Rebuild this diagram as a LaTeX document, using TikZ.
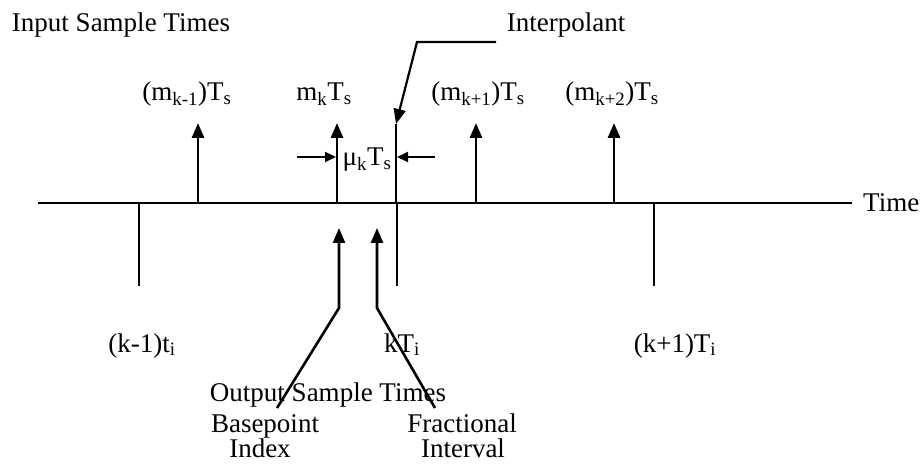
\documentclass[tikz,border=0pt]{standalone}
\usepackage{fontspec}
\setmainfont{Liberation Serif}
\usetikzlibrary{arrows.meta}
\begin{document}
\begin{tikzpicture}[x=1pt,y=-1pt,
  lbl/.style={inner sep=0pt, text height=17pt, text depth=5pt, font=\fontsize{27}{29}\selectfont},
  stem/.style={line width=2.8pt},
  tip/.style={-{Triangle[width=12pt,length=15pt]}},
  smalltip/.style={-{Triangle[width=10pt,length=11pt]}},
  axisline/.style={line width=2.2pt}]
\useasboundingbox (0,0) rectangle (923,470);
% axis
\coordinate (a0) at (38,203);
\coordinate (a1) at (852,203);
\draw[axisline] (a0) -- (a1);
\node[lbl, anchor=west] (time) at (863,206) {Time};
\node[lbl] (inp) at (121,26) {Input Sample Times};
% input sample stems
\foreach \n/\x in {1/198,2/337,3/476,4/614}{
  \coordinate (ib\n) at (\x,203);
  \coordinate (it\n) at (\x,123);
  \draw[stem,tip] (ib\n) -- (it\n);
}
\node[lbl] (lm1) at (187,95) {(m\textsubscript{k-1})T\textsubscript{s}};
\node[lbl] (lm2) at (324,95) {m\textsubscript{k}T\textsubscript{s}};
\node[lbl] (lm3) at (478,95) {(m\textsubscript{k+1})T\textsubscript{s}};
\node[lbl] (lm4) at (612,95) {(m\textsubscript{k+2})T\textsubscript{s}};
% output sample stems
\foreach \n/\x in {1/139,2/397,3/654}{
  \coordinate (ob\n) at (\x,203);
  \coordinate (oe\n) at (\x,286);
  \draw[stem] (ob\n) -- (oe\n);
}
\node[lbl] (lk1) at (142,346) {(k-1)t\textsubscript{i}};
\node[lbl] (lk2) at (402,346) {kT\textsubscript{i}};
\node[lbl] (lk3) at (675,346) {(k+1)T\textsubscript{i}};
% interpolant
\node[lbl] (interp) at (566,26) {Interpolant};
\coordinate (ih) at (496,42);
\coordinate (ik) at (417,42);
\coordinate (ip) at (396,124);
\coordinate (ia) at (396,203);
\draw[line width=2.2pt,tip] (ih) -- (ik) -- (ip);
\draw[line width=1.1pt] (ip) -- (ia);
% fractional interval dimension
\coordinate (dl0) at (297,157);
\coordinate (dl1) at (336,157);
\coordinate (dr0) at (435,157);
\coordinate (dr1) at (397,157);
\draw[line width=1.8pt,smalltip] (dl0) -- (dl1);
\draw[line width=1.8pt,smalltip] (dr0) -- (dr1);
\node[lbl] (mu) at (367,160) {μ\textsubscript{k}T\textsubscript{s}};
% bottom callouts
\coordinate (bp0) at (277,408);
\coordinate (bp1) at (339,308);
\coordinate (bp2) at (339,228);
\coordinate (fi0) at (435,408);
\coordinate (fi1) at (377,308);
\coordinate (fi2) at (377,228);
\draw[line width=2.6pt,tip] (bp0) -- (bp1) -- (bp2);
\draw[line width=2.6pt,tip] (fi0) -- (fi1) -- (fi2);
\node[lbl] (ost) at (328,395) {Output Sample Times};
\node[lbl] (bpt) at (265,426) {Basepoint};
\node[lbl] (idx) at (260,451) {Index};
\node[lbl] (frc) at (462,426) {Fractional};
\node[lbl] (itv) at (463,451) {Interval};
\end{tikzpicture}
\end{document}
